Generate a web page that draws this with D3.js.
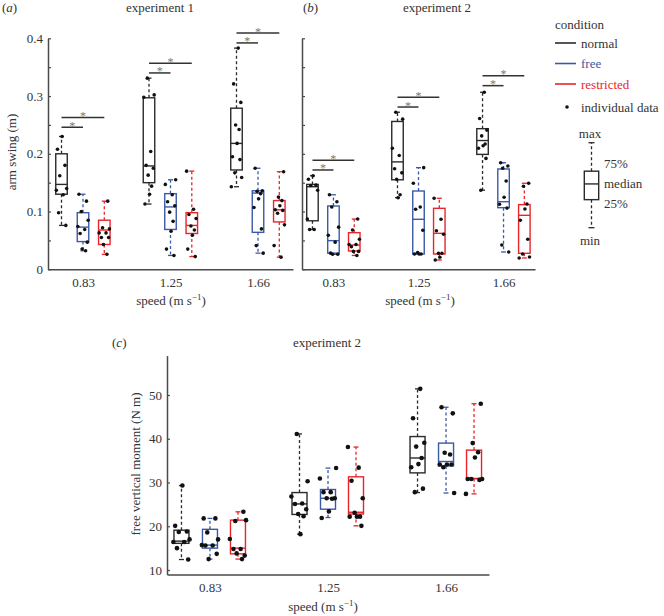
<!DOCTYPE html>
<html><head><meta charset="utf-8">
<script src="https://cdn.jsdelivr.net/npm/d3@7"></script>
<style>body{margin:0;background:#fff}</style>
</head><body><svg id="chart" width="664" height="616" xmlns="http://www.w3.org/2000/svg"></svg>
<script>
// ---------------- DATA ----------------
const speeds = ["0.83", "1.25", "1.66"];
const conditions = ["normal", "free", "restricted"];
const condColors = ["#2a2a2a", "#3a5aa8", "#e8252b"];

// stats: [min, q1, median, q3, max] per speed
// Panel (a) experiment 1 arm swing (m)
const a_normal_stats = [[0.076,0.130,0.147,0.200,0.230],[0.113,0.150,0.179,0.297,0.331],[0.143,0.172,0.218,0.279,0.383]];
const a_free_stats = [[0.032,0.048,0.073,0.098,0.130],[0.024,0.069,0.108,0.131,0.155],[0.028,0.064,0.132,0.136,0.175]];
const a_restricted_stats = [[0.026,0.043,0.068,0.085,0.118],[0.022,0.062,0.076,0.098,0.170],[0.021,0.082,0.103,0.119,0.169]];
const a_normal_points = [[0.230,0.208,0.180,0.162,0.140,0.137,0.129,0.098,0.076],[0.331,0.302,0.298,0.204,0.180,0.175,0.163,0.144,0.130,0.113],[0.383,0.321,0.289,0.250,0.242,0.218,0.195,0.190,0.167,0.159,0.143]];
const a_free_points = [[0.130,0.118,0.100,0.085,0.074,0.069,0.062,0.047,0.035,0.032],[0.155,0.147,0.129,0.117,0.110,0.099,0.083,0.066,0.035,0.024],[0.175,0.136,0.135,0.131,0.122,0.107,0.070,0.041,0.028]];
const a_restricted_points = [[0.118,0.072,0.070,0.063,0.063,0.055,0.055,0.043,0.026],[0.170,0.104,0.095,0.088,0.075,0.068,0.059,0.035,0.022],[0.169,0.125,0.119,0.110,0.103,0.102,0.097,0.077,0.041,0.021]];
const a_sig = [[0.246,0.263],[0.340,0.357],[0.392,0.409]];

// Panel (b) experiment 2 arm swing (m)
const b_normal_stats = [[0.069,0.084,0.143,0.147,0.162],[0.124,0.155,0.186,0.256,0.272],[0.137,0.199,0.223,0.2435,0.3065]];
const b_free_stats = [[0.026,0.028,0.0496,0.1096,0.129],[0.0265,0.0265,0.0866,0.1356,0.176],[0.030,0.1067,0.117,0.1737,0.1846]];
const b_restricted_stats = [[0.024,0.0317,0.042,0.0634,0.087],[0.016,0.0265,0.0623,0.1056,0.123],[0.0196,0.0277,0.0935,0.112,0.149]];
const b_normal_points = [[0.162,0.156,0.146,0.145,0.137,0.087,0.069,0.069],[0.272,0.260,0.2095,0.197,0.174,0.167,0.156,0.129,0.124],[0.3065,0.261,0.241,0.231,0.217,0.214,0.2095,0.192,0.137]];
const b_free_points = [[0.129,0.117,0.108,0.073,0.059,0.047,0.028,0.026,0.026],[0.176,0.149,0.108,0.104,0.0675,0.029,0.0265,0.0265,0.0265],[0.1846,0.179,0.175,0.153,0.1247,0.1126,0.106,0.042,0.030]];
const b_restricted_points = [[0.087,0.068,0.052,0.043,0.043,0.039,0.031,0.031,0.024],[0.123,0.0866,0.0668,0.0606,0.0277,0.0277,0.0208,0.016],[0.149,0.1437,0.113,0.1044,0.0849,0.052,0.0265,0.0213,0.0196]];
const b_sig = [[0.172,0.189],[0.281,0.298],[0.318,0.335]];

// Panel (c) experiment 2 free vertical moment (N m)
const c_normal_stats = [[12.4,16.1,16.6,19.1,29.3],[18.2,22.7,25.1,27.7,41.1],[27.7,32.2,35.6,40.5,51.4]];
const c_free_stats = [[12.5,15.0,15.7,19.3,21.8],[22.0,23.9,26.4,28.4,33.3],[27.6,33.8,34.8,39.0,47.2]];
const c_restricted_stats = [[12.5,13.7,15.0,21.4,23.3],[20.1,22.8,23.2,31.3,38.1],[27.4,30.9,30.9,37.4,48.0]];
const c_normal_points = [[29.3,20.1,18.8,18.7,17.0,16.4,16.4,15.0,12.4],[41.1,30.3,26.8,25.2,25.1,23.9,22.8,22.3,18.2],[51.4,44.7,39.1,38.2,35.6,34.2,33.5,28.6,27.8]];
const c_free_points = [[21.8,21.8,18.6,17.0,15.7,15.6,15.6,13.7,12.5],[33.3,30.9,27.8,27.8,26.4,26.4,26.3,23.4,21.9],[47.2,45.8,36.8,36.4,34.1,34.1,34.1,33.5,27.6]];
const c_restricted_points = [[23.3,21.2,21.4,17.1,14.8,14.8,13.3,13.8,12.5],[38.1,33.4,30.4,26.4,23.1,22.2,22.2,22.2,20.1],[48.0,39.0,36.9,35.7,30.8,30.6,30.8,30.8,27.4]];

const armTicks = [0,0.05,0.1,0.15,0.2,0.25,0.3,0.35,0.4];
const momentTicks = [10,20,30,40,50];

// horizontal jitter pattern (fraction of half box width), purely cosmetic
const jitter = [0.1,-0.7,0.6,-0.3,0.9,-0.9,0.3,-0.5,0.75,-0.15,0.45];

// ---------------- DRAWING ----------------
const svg = d3.select("#chart");
const FONT = "'Liberation Serif','Times New Roman',serif";
const TXT = "#333";
const AX = "#4a4a4a";

function text(x, y, str, opts = {}) {
  const t = svg.append("text").attr("x", x).attr("y", y)
    .attr("font-family", FONT).attr("font-size", opts.size || 13)
    .attr("fill", opts.fill || TXT)
    .attr("text-anchor", opts.anchor || "middle");
  if (opts.rotate) t.attr("transform", `rotate(-90,${x},${y})`);
  t.text(str);
  return t;
}

function speedLabel(x, y) {
  const t = svg.append("text").attr("x", x).attr("y", y)
    .attr("font-family", FONT).attr("font-size", 13).attr("fill", TXT)
    .attr("text-anchor", "middle");
  t.append("tspan").text("speed (m s");
  t.append("tspan").attr("dy", -5).attr("font-size", 9).text("\u22121");
  t.append("tspan").attr("dy", 5).text(")");
}

function panelLetter(x, y, letter) {
  const t = svg.append("text").attr("x", x).attr("y", y)
    .attr("font-family", FONT).attr("font-size", 13).attr("fill", TXT);
  t.append("tspan").text("(");
  t.append("tspan").attr("font-style", "italic").text(letter);
  t.append("tspan").text(")");
}

function drawPanel(o) {
  const g = svg.append("g");
  const x = d3.scaleLinear().domain(o.xDomain).range(o.xRange);
  const y = d3.scaleLinear().domain(o.yDomain).range(o.yRange);

  // y axis
  const ya = g.append("g").attr("transform", `translate(${o.xRange[0]},0)`)
    .call(d3.axisLeft(y).tickValues(o.yTicks).tickSizeInner(-3).tickSizeOuter(0).tickPadding(5)
      .tickFormat(o.yFormat));
  ya.selectAll("text").attr("font-family", FONT).attr("font-size", 13).attr("fill", TXT);
  ya.selectAll("line").attr("stroke", AX).attr("stroke-width", 1.2);
  ya.select(".domain").attr("stroke", AX).attr("stroke-width", 1.5);

  // x axis
  const xa = g.append("g").attr("transform", `translate(0,${o.yRange[0]})`)
    .call(d3.axisBottom(x).tickValues([1,2,3]).tickSize(0).tickPadding(8)
      .tickFormat(d => speeds[d - 1]));
  xa.selectAll("text").attr("font-family", FONT).attr("font-size", 13).attr("fill", TXT);
  xa.select(".domain").attr("stroke", AX).attr("stroke-width", 1.5);

  const hw = o.boxW / 2;
  o.series.forEach((s, ci) => {
    const col = condColors[ci];
    s.stats.forEach((st, si) => {
      const cx = x(si + 1) + o.offsets[ci];
      const [mn, q1, md, q3, mx] = st;
      const bg = g.append("g");
      // whiskers (dashed)
      bg.append("line").attr("x1", cx).attr("x2", cx).attr("y1", y(q3)).attr("y2", y(mx))
        .attr("stroke", col).attr("stroke-width", 1.3).attr("stroke-dasharray", "3,2.5");
      bg.append("line").attr("x1", cx).attr("x2", cx).attr("y1", y(q1)).attr("y2", y(mn))
        .attr("stroke", col).attr("stroke-width", 1.3).attr("stroke-dasharray", "3,2.5");
      // caps
      [mn, mx].forEach(v => bg.append("line")
        .attr("x1", cx - o.capW / 2).attr("x2", cx + o.capW / 2).attr("y1", y(v)).attr("y2", y(v))
        .attr("stroke", col).attr("stroke-width", 1.3));
      // box
      bg.append("rect").attr("x", cx - hw).attr("y", y(q3)).attr("width", o.boxW)
        .attr("height", Math.max(0.5, y(q1) - y(q3)))
        .attr("fill", "none").attr("stroke", col).attr("stroke-width", 1.4);
      bg.append("line").attr("x1", cx - hw).attr("x2", cx + hw).attr("y1", y(md)).attr("y2", y(md))
        .attr("stroke", col).attr("stroke-width", 1.4);
      // points
      s.points[si].forEach((v, k) => {
        bg.append("circle").attr("cx", cx + jitter[(k + si * 3 + ci) % jitter.length] * hw * o.jitterScale)
          .attr("cy", y(v)).attr("r", o.r).attr("fill", "#111");
      });
    });
  });

  // significance bars
  if (o.sig) {
    o.sig.forEach((lv, si) => {
      const x0 = x(si + 1) + o.offsets[0];
      const ends = [x(si + 1) + o.offsets[1], x(si + 1) + o.offsets[2]];
      lv.forEach((v, k) => {
        g.append("line").attr("x1", x0).attr("x2", ends[k]).attr("y1", y(v)).attr("y2", y(v))
          .attr("stroke", "#333").attr("stroke-width", 1.5);
        g.append("text").attr("x", (x0 + ends[k]) / 2).attr("y", y(v) + 2.5)
          .attr("text-anchor", "middle").attr("font-family", FONT).attr("font-size", 12)
          .attr("fill", "#777").text("*");
      });
    });
  }
  return {x, y};
}

// Panel (a)
drawPanel({
  xDomain: [0.6, 3.4], xRange: [48, 293], yDomain: [0, 0.4], yRange: [269.3, 38.3],
  yTicks: armTicks, yFormat: d => (Math.round(d * 100) % 10 === 0 ? (d === 0 ? "0" : d3.format(".1f")(d)) : ""),
  offsets: [-21.5, 0, 21.3], boxW: 11.5, capW: 5, r: 1.8, jitterScale: 1.0,
  series: [{stats: a_normal_stats, points: a_normal_points},
           {stats: a_free_stats, points: a_free_points},
           {stats: a_restricted_stats, points: a_restricted_points}],
  sig: a_sig
});
// Panel (b)
drawPanel({
  xDomain: [0.63, 3.37], xRange: [302, 535], yDomain: [0, 0.4], yRange: [269.3, 38.3],
  yTicks: armTicks, yFormat: () => "",
  offsets: [-21, 0, 20.8], boxW: 11.5, capW: 5, r: 1.8, jitterScale: 1.0,
  series: [{stats: b_normal_stats, points: b_normal_points},
           {stats: b_free_stats, points: b_free_points},
           {stats: b_restricted_stats, points: b_restricted_points}],
  sig: b_sig
});
// Panel (c)
drawPanel({
  xDomain: [0.636, 3.364], xRange: [167, 489], yDomain: [9, 59], yRange: [574.4, 355.6],
  yTicks: momentTicks, yFormat: d => d,
  offsets: [-28.5, 0, 28], boxW: 15, capW: 5, r: 2.3, jitterScale: 1.2,
  series: [{stats: c_normal_stats, points: c_normal_points},
           {stats: c_free_stats, points: c_free_points},
           {stats: c_restricted_stats, points: c_restricted_points}],
  sig: null
});

// Titles and labels
panelLetter(2, 12, "a");
text(160, 12, "experiment 1");
panelLetter(303, 12, "b");
text(437, 12, "experiment 2");
panelLetter(112, 347, "c");
text(327, 347, "experiment 2");

text(16, 152, "arm swing (m)", {rotate: true});
text(140, 464, "free vertical moment (N m)", {rotate: true});
speedLabel(171, 305);
speedLabel(420, 305);
speedLabel(323, 611);

// Legend: condition
text(555, 29, "condition", {anchor: "start"});
const legendLabels = ["normal", "free", "restricted"];
const legendRows = d3.scalePoint().domain(legendLabels).range([43, 84]);
legendLabels.forEach((lab, i) => {
  const yy = legendRows(lab);
  svg.append("line").attr("x1", 555).attr("x2", 576).attr("y1", yy).attr("y2", yy)
    .attr("stroke", condColors[i]).attr("stroke-width", 1.6);
  text(581, yy + 4.5, lab, {anchor: "start", fill: i === 0 ? TXT : condColors[i]});
});
svg.append("circle").attr("cx", 567).attr("cy", 107).attr("r", 1.8).attr("fill", "#111");
text(581, 111.5, "individual data", {anchor: "start"});

// Legend: box schematic
const schematic = [0, 0.33, 0.515, 0.665, 1];
const ly = d3.scaleLinear().domain([0, 1]).range([227.7, 142.7]);
const lcx = 591.5;
const lg = svg.append("g");
lg.append("line").attr("x1", lcx).attr("x2", lcx).attr("y1", ly(schematic[3])).attr("y2", ly(schematic[4]))
  .attr("stroke", "#2a2a2a").attr("stroke-width", 1.3).attr("stroke-dasharray", "3,2.5");
lg.append("line").attr("x1", lcx).attr("x2", lcx).attr("y1", ly(schematic[1])).attr("y2", ly(schematic[0]))
  .attr("stroke", "#2a2a2a").attr("stroke-width", 1.3).attr("stroke-dasharray", "3,2.5");
[schematic[0], schematic[4]].forEach(v => lg.append("line").attr("x1", lcx - 3).attr("x2", lcx + 3)
  .attr("y1", ly(v)).attr("y2", ly(v)).attr("stroke", "#2a2a2a").attr("stroke-width", 1.3));
lg.append("rect").attr("x", lcx - 7.2).attr("y", ly(schematic[3])).attr("width", 14.4)
  .attr("height", ly(schematic[1]) - ly(schematic[3])).attr("fill", "none").attr("stroke", "#2a2a2a").attr("stroke-width", 1.4);
lg.append("line").attr("x1", lcx - 7.2).attr("x2", lcx + 7.2).attr("y1", ly(schematic[2])).attr("y2", ly(schematic[2]))
  .attr("stroke", "#2a2a2a").attr("stroke-width", 1.4);
text(590, 137.5, "max");
text(590, 245, "min");
text(604, 168, "75%", {anchor: "start"});
text(604, 188, "median", {anchor: "start"});
text(604, 207.5, "25%", {anchor: "start"});
</script></body></html>
